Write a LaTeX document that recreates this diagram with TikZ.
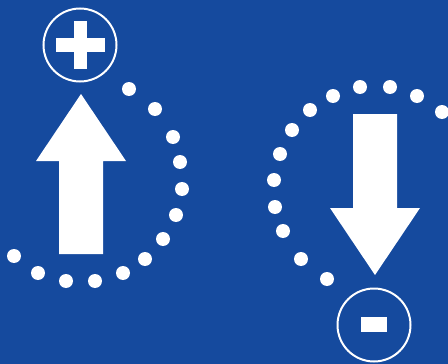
\documentclass[tikz,border=0pt]{standalone}
\definecolor{bg}{RGB}{21,74,158}
\tikzset{dotmark/.style={fill=white,draw=none},
  ring/.style={draw=white,line width=2pt},
  shape/.style={fill=white,draw=none}}
\begin{document}
\begin{tikzpicture}[x=1pt,y=-1pt]
\fill[bg] (0,0) rectangle (448,364);
\useasboundingbox (0,0) rectangle (448,364);
% plus
\draw[ring] (80,45) circle (36.5);
\fill[white] (56,38) rectangle (105,52);
\fill[white] (74,21) rectangle (87,69);
% up arrow
\fill[white] (81,94) -- (126,161) -- (103,161) -- (103,254) -- (59,254) -- (59,161) -- (36,161) -- cycle;
% left dots
\foreach \p in {(129,89),(155,109),(173,137),(180,162),(182,189),(176,215),(163,239),(145,259),(123,273),(95,281),(66,281),(38,273),(14,256)}
  \fill[dotmark] \p circle (7);
% right dots
\foreach \p in {(442,112),(417,96),(390,87),(360,87),(333,96),(310,110),(292,130),(280,154),(274,180),(275,207),(283,231),(301,259),(327,279)}
  \fill[dotmark] \p circle (7);
% down arrow
\fill[white] (375,275) -- (420,208) -- (397,208) -- (397,114) -- (353,114) -- (353,208) -- (330,208) -- cycle;
% minus
\draw[ring] (374,325) circle (36.5);
\fill[white] (361,317) rectangle (387,332);
\end{tikzpicture}
\end{document}
